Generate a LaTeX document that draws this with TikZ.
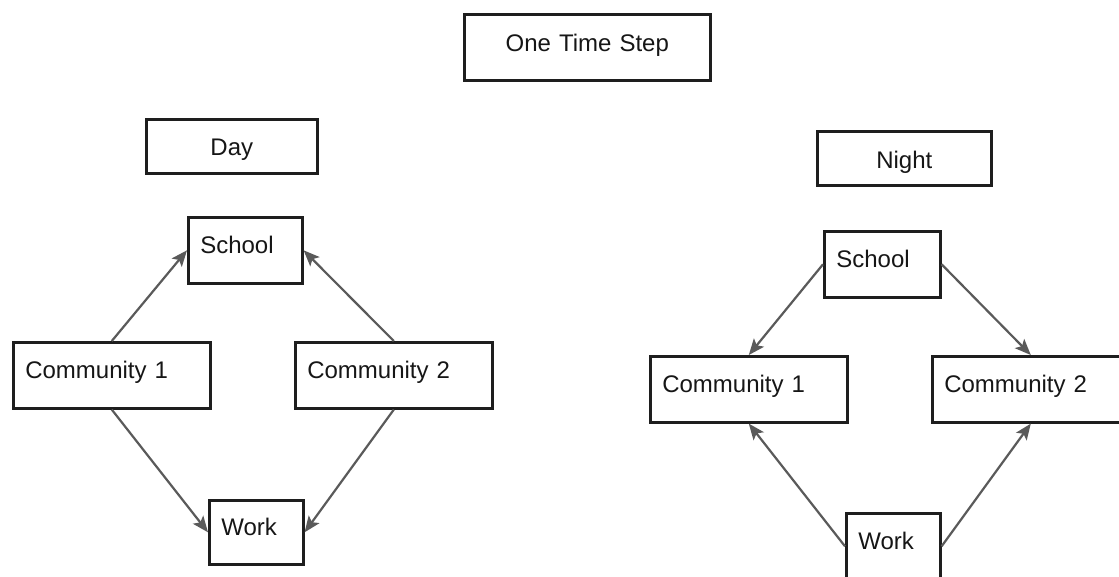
\documentclass[tikz,border=0pt]{standalone}
\usepackage{fontspec}
\setmainfont{Liberation Sans}
\usetikzlibrary{arrows.meta}
\definecolor{boxc}{HTML}{1E1E1E}
\definecolor{txtc}{HTML}{161616}
\definecolor{arrc}{HTML}{5A5A5A}
\tikzset{
  bx/.style={draw=boxc, line width=2.6pt, inner xsep=12pt, inner ysep=0pt,
    anchor=north west, text=txtc, font=\fontsize{24}{28}\selectfont,
    text height=36pt, text depth=30pt, align=left},
  arr/.style={draw=arrc, line width=2.2pt,
    -{Stealth[length=16pt,width=13pt,inset=3.5pt]}}
}
\begin{document}
\begin{tikzpicture}[x=1pt,y=-1pt]
\useasboundingbox (0,0) rectangle (1119,576);
% headers
\node[bx, align=center, text width=222pt, text height=37pt, text depth=29pt] (title) at (463,13) {One Time Step};
\node[bx, align=center, text width=147pt, text height=36pt, text depth=18pt] (day) at (145,118) {Day};
\node[bx, align=center, text width=150pt, text height=37pt, text depth=17pt] (night) at (816,130) {Night};
% day
\node[bx, text width=90pt] (s1) at (187,216) {School};
\node[bx, text width=173pt] (c1d) at (12,341) {Community 1};
\node[bx, text width=173pt] (c2d) at (294,341) {Community 2};
\node[bx, text width=70pt, text height=35pt, text depth=29pt] (w1) at (208,499) {Work};
% night
\node[bx, text width=92pt] (s2) at (823,230) {School};
\node[bx, text width=173pt] (c1n) at (649,355) {Community 1};
\node[bx, text width=173pt] (c2n) at (931,355) {Community 2};
\node[bx, text width=70pt] (w2) at (845,512) {Work};
% day arrows
\draw[arr] (c1d.north) -- (s1.west);
\draw[arr] (c2d.north) -- (s1.east);
\draw[arr] (c1d.south) -- (w1.west);
\draw[arr] (c2d.south) -- (w1.east);
% night arrows
\draw[arr] (s2.west) -- (c1n.north);
\draw[arr] (s2.east) -- (c2n.north);
\draw[arr] (w2.west) -- (c1n.south);
\draw[arr] (w2.east) -- (c2n.south);
\end{tikzpicture}
\end{document}
